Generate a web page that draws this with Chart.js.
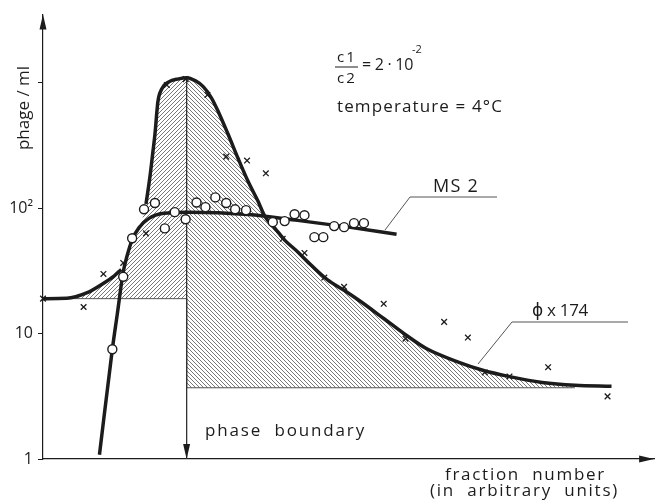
<!DOCTYPE html>
<html>
<head>
<meta charset="utf-8">
<script src="https://cdn.jsdelivr.net/npm/chart.js@4.4.1/dist/chart.umd.min.js"></script>
<style>
  html, body { margin: 0; padding: 0; background: #fff; }
  canvas { display: block; }
</style>
</head>
<body>
<canvas id="chart" width="660" height="502"></canvas>
<script>
// x = fraction number (arbitrary units), y = phage / ml (log)

// phi x 174 curve, left part (upper phase)
const phiLeftCurve = [
  [0, 19], [24, 19.1], [44, 21.1], [60, 24.9], [72, 28.9], [79, 32.5],
];

// phi x 174 curve, peak and tail
const phiPeakCurve = [
  [104, 108], [108, 179], [111, 283], [113, 387], [116, 707], [120, 896],
  [127, 1018], [137, 1076], [145, 1100], [154, 1037], [162, 929], [170, 760],
  [177, 589], [187, 387], [197, 249], [207, 164], [217, 114], [224, 86],
  [234, 69.5], [244, 55.7], [257, 45], [267, 37.5], [287, 26.9], [307, 21.4],
  [320, 18.2], [344, 13.2], [366, 9.8], [387, 7.6], [420, 5.9], [444, 5.1],
  [470, 4.56], [504, 4.08], [537, 3.87], [574, 3.8],
];

// MS2 curve
const ms2Curve = [
  [57, 1.08], [70, 7.5], [75, 14.3], [81, 31], [85, 42], [90, 56], [97, 70],
  [107, 83], [122, 91], [147, 93], [207, 89], [257, 80], [307, 71], [357, 62],
];

// measured points
const phiPoints = [
  [0, 19], [41, 16.3], [61, 29.9], [81, 36.6], [104, 63], [125, 960],
  [144, 1070], [166, 800], [185, 258], [206, 240], [225, 190], [242, 57],
  [264, 44], [284, 28], [304, 23.6], [344, 17.3], [366, 9.1], [405, 12.4],
  [429, 9.3], [446, 4.9], [471, 4.55], [510, 5.4], [570, 3.16],
];

const ms2Points = [
  [70, 7.5], [81, 28.4], [90, 57.6], [102, 98], [113, 110], [123, 69],
  [133, 93], [144, 81.6], [155, 111], [164, 102], [174, 122], [185, 110],
  [194, 98], [205, 96.5], [232, 77.4], [244, 78.9], [254, 89.5], [264, 88],
  [274, 58.8], [283, 58.8], [294, 72], [304, 70.6], [314, 76], [324, 76],
];

const boundaryX = 145;
const leftBase = 19;
const rightBase = 3.7;
const rightHatchEnd = 537;

const yTicks = [1, 10, 100, 1000];
const yTickLabels = ['1', '10', '10²', ''];

const ink = '#1c1c1c';
const font = '"Open Sans", "DejaVu Sans", sans-serif';

const xy = (arr) => arr.map(([x, y]) => ({ x: x, y: y }));

// hatch patterns
function hatch(dir) {
  const s = 4;
  const c = document.createElement('canvas');
  c.width = s;
  c.height = s;
  const g = c.getContext('2d');
  g.strokeStyle = '#555';
  g.lineWidth = 0.8;
  g.beginPath();
  if (dir === '/') {
    g.moveTo(-1, s + 1); g.lineTo(s + 1, -1);
    g.moveTo(-1, 1); g.lineTo(1, -1);
    g.moveTo(s - 1, s + 1); g.lineTo(s + 1, s - 1);
  } else {
    g.moveTo(-1, -1); g.lineTo(s + 1, s + 1);
    g.moveTo(-1, s - 1); g.lineTo(1, s + 1);
    g.moveTo(s - 1, -1); g.lineTo(s + 1, 1);
  }
  g.stroke();
  return g.createPattern(c, 'repeat');
}

const leftEnvelope = phiLeftCurve
  .concat(ms2Curve.filter((p) => p[0] > 79 && p[0] < 104))
  .concat(phiPeakCurve.filter((p) => p[0] <= boundaryX));
const rightEnvelope = phiPeakCurve.filter((p) => p[0] >= boundaryX && p[0] <= rightHatchEnd);

const peakTop = Math.max(...phiPeakCurve.map((p) => p[1]));

function arrowHead(ctx, tx, ty, dx, dy, len, half) {
  const bx = tx - dx * len;
  const by = ty - dy * len;
  ctx.beginPath();
  ctx.moveTo(tx, ty);
  ctx.lineTo(bx - dy * half, by + dx * half);
  ctx.lineTo(bx + dy * half, by - dx * half);
  ctx.closePath();
  ctx.fill();
}

function label(ctx, str, x, y, size, width) {
  ctx.font = size + 'px ' + font;
  ctx.letterSpacing = '0px';
  if (width) {
    const w = ctx.measureText(str).width;
    ctx.letterSpacing = ((width - w) / str.length) + 'px';
  }
  ctx.fillText(str, x, y);
  ctx.letterSpacing = '0px';
}

const decor = {
  id: 'decor',
  afterDraw(chart) {
    const { ctx, chartArea: a, scales } = chart;
    ctx.save();
    ctx.fillStyle = ink;
    ctx.strokeStyle = ink;

    // axis arrows
    arrowHead(ctx, a.left, a.top, 0, -1, 15, 3.5);
    arrowHead(ctx, a.right, a.bottom, 1, 0, 15, 3.5);

    // phase boundary arrow
    const bx = scales.x.getPixelForValue(boundaryX);
    arrowHead(ctx, bx, scales.y.getPixelForValue(1), 0, 1, 15, 3.5);

    // leader lines
    ctx.lineWidth = 1;
    ctx.strokeStyle = '#555';
    ctx.beginPath();
    ctx.moveTo(385, 230); ctx.lineTo(410, 197); ctx.lineTo(497, 197);
    ctx.moveTo(478, 364); ctx.lineTo(512, 322); ctx.lineTo(628, 322);
    ctx.stroke();

    // fraction c1/c2
    ctx.strokeStyle = ink;
    ctx.beginPath();
    ctx.moveTo(335, 67); ctx.lineTo(358, 67);
    ctx.stroke();
    ctx.textBaseline = 'alphabetic';
    ctx.textAlign = 'left';
    label(ctx, 'c1', 337, 62, 15, 20);
    label(ctx, 'c2', 337, 83, 15, 20);
    label(ctx, '= 2 · 10', 362, 70, 16, 51);
    label(ctx, '-2', 412, 53, 11);
    label(ctx, 'temperature = 4°C', 337, 112, 17, 166);

    label(ctx, 'MS 2', 433, 192, 18, 46);
    label(ctx, 'ϕ x 174', 532, 316, 17, 56);

    label(ctx, 'phase  boundary', 205, 436, 17, 161);
    label(ctx, 'fraction  number', 445, 480, 17, 161);
    label(ctx, '(in  arbitrary  units)', 430, 496, 17, 189);

    // y title
    ctx.save();
    ctx.translate(29, 108);
    ctx.rotate(-Math.PI / 2);
    ctx.textAlign = 'center';
    label(ctx, 'phage / ml', 0, 0, 17);
    ctx.restore();

    ctx.restore();
  },
};

const curveStyle = {
  borderColor: ink,
  borderWidth: 3.5,
  pointRadius: 0,
  cubicInterpolationMode: 'monotone',
  fill: false,
  order: 1,
  clip: 6,
};

new Chart(document.getElementById('chart'), {
  type: 'line',
  data: {
    datasets: [
      {
        label: 'phi x 174 points',
        data: xy(phiPoints),
        showLine: false,
        pointStyle: 'crossRot',
        pointRadius: 4,
        pointBorderWidth: 1.3,
        pointBorderColor: ink,
        order: 0,
        clip: 8,
      },
      {
        label: 'MS2 points',
        data: xy(ms2Points),
        showLine: false,
        pointStyle: 'circle',
        pointRadius: 4.5,
        pointBorderWidth: 1.4,
        pointBorderColor: ink,
        pointBackgroundColor: '#fff',
        order: 0,
        clip: 8,
      },
      Object.assign({ label: 'phi x 174 left', data: xy(phiLeftCurve) }, curveStyle),
      Object.assign({ label: 'phi x 174 peak', data: xy(phiPeakCurve) }, curveStyle),
      Object.assign({ label: 'MS2', data: xy(ms2Curve) }, curveStyle),
      {
        label: 'phase boundary',
        data: xy([[boundaryX, peakTop], [boundaryX, 1]]),
        borderColor: '#333',
        borderWidth: 1,
        pointRadius: 0,
        order: 2,
      },
      {
        label: 'hatch bases',
        data: xy([[0, leftBase], [boundaryX, leftBase], [boundaryX, rightBase], [rightHatchEnd, rightBase]]),
        borderColor: '#555',
        borderWidth: 1,
        pointRadius: 0,
        order: 2,
      },
      {
        label: 'upper phase',
        data: xy(leftEnvelope),
        borderWidth: 0,
        pointRadius: 0,
        cubicInterpolationMode: 'monotone',
        backgroundColor: hatch('/'),
        fill: { value: leftBase },
        order: 3,
      },
      {
        label: 'lower phase',
        data: xy(rightEnvelope),
        borderWidth: 0,
        pointRadius: 0,
        cubicInterpolationMode: 'monotone',
        backgroundColor: hatch('\\'),
        fill: { value: rightBase },
        order: 3,
      },
    ],
  },
  options: {
    responsive: false,
    animation: false,
    devicePixelRatio: 1,
    layout: { padding: { top: 12, right: 0, bottom: 0, left: 0 } },
    plugins: {
      legend: { display: false },
      tooltip: { enabled: false },
    },
    scales: {
      x: {
        type: 'linear',
        min: 0,
        max: 617,
        ticks: { display: false },
        grid: { display: false },
        border: { display: true, color: ink, width: 1.2 },
        afterFit(scale) { scale.height = 43; },
      },
      y: {
        type: 'logarithmic',
        min: 1,
        max: 3500,
        afterBuildTicks(scale) {
          scale.ticks = yTicks.map((v) => ({ value: v }));
        },
        ticks: {
          color: ink,
          padding: 5,
          font: { family: font, size: 16 },
          callback: (v) => yTickLabels[yTicks.indexOf(v)],
        },
        grid: { drawOnChartArea: false, drawTicks: true, tickLength: 5, color: ink, lineWidth: 1 },
        border: { display: true, color: ink, width: 1.2 },
        afterFit(scale) { scale.width = 43; },
      },
    },
  },
  plugins: [decor],
});
</script>
</body>
</html>
